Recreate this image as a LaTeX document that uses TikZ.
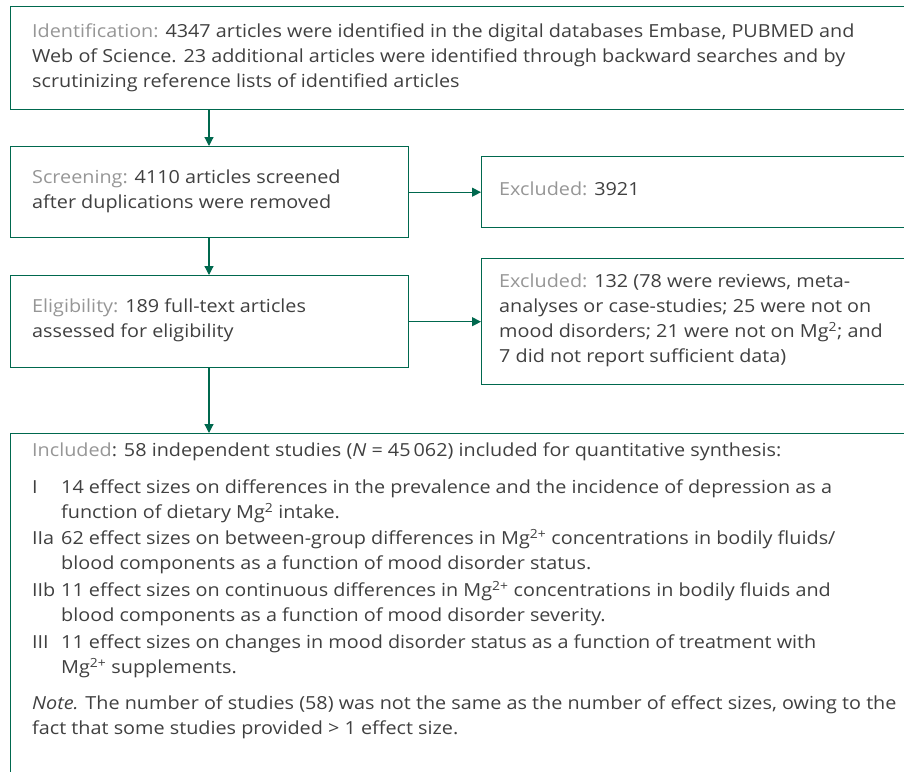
\documentclass[tikz,border=0pt]{standalone}
\usepackage{fontspec}
\setmainfont{Open Sans}[FakeStretch=1.10]
\usetikzlibrary{arrows.meta}
\definecolor{fgreen}{RGB}{0,104,78}
\definecolor{lblgray}{RGB}{150,150,150}
\definecolor{txtgray}{RGB}{64,64,64}
\newcommand{\lbl}[1]{\textcolor{lblgray}{#1}}
\newcommand{\itemlbl}[1]{\makebox[29pt][l]{#1}}
\newcommand{\itemind}{\hspace*{29pt}}
\begin{document}
\begin{tikzpicture}[x=1pt,y=-1pt,
  box/.style={draw=fgreen, line width=1.4pt, anchor=north west, inner sep=0pt, fill=white},
  txt/.style={anchor=north west, inner sep=0pt, align=left, text=txtgray, font=\fontsize{18}{25}\selectfont},
  conn/.style={draw=fgreen, line width=1.2pt, -{Triangle[length=9pt,width=9pt]}}]
\useasboundingbox (0,0) rectangle (904,771);
\clip (0,0) rectangle (904,771);
\fill[white] (0,0) rectangle (904,771);
% boxes
\node[box, minimum width=910pt, minimum height=103pt] (ident) at (10,6) {};
\node[box, minimum width=398pt, minimum height=91pt] (screen) at (10,146) {};
\node[box, minimum width=440pt, minimum height=71pt] (excl1) at (481,156) {};
\node[box, minimum width=398pt, minimum height=92pt] (elig) at (10,275) {};
\node[box, minimum width=440pt, minimum height=126pt] (excl2) at (481,258) {};
\node[box, minimum width=910pt, minimum height=400pt] (incl) at (10,433) {};
% texts
\node[txt] (identtxt) at (32,24) {\lbl{Identification:} 4347 articles were identified in the digital databases Embase, PUBMED and\\Web of Science. 23 additional articles were identified through backward searches and by\\scrutinizing reference lists of identified articles};
\node[txt] (screentxt) at (32,170) {\lbl{Screening:} 4110 articles screened\\after duplications were removed};
\node[txt] (excl1txt) at (499,182) {\lbl{Excluded:} 3921};
\node[txt] (eligtxt) at (32,299) {\lbl{Eligibility:} 189 full-text articles\\assessed for eligibility};
\node[txt] (excl2txt) at (499,274) {\lbl{Excluded:} 132 (78 were reviews, meta-\\analyses or case-studies; 25 were not on\\mood disorders; 21 were not on Mg\textsuperscript{2}; and\\7 did not report sufficient data)};
\node[txt] (incltxt) at (32,443) {\lbl{Included}: 58 independent studies (\textit{N} = 45\,062) included for quantitative synthesis:\\[12pt]
\itemlbl{I}14 effect sizes on differences in the prevalence and the incidence of depression as a\\
\itemind function of dietary Mg\textsuperscript{2} intake.\\[1pt]
\itemlbl{IIa}62 effect sizes on between-group differences in Mg\textsuperscript{2+} concentrations in bodily fluids/\\
\itemind blood components as a function of mood disorder status.\\[2pt]
\itemlbl{IIb}11 effect sizes on continuous differences in Mg\textsuperscript{2+} concentrations in bodily fluids and\\
\itemind blood components as a function of mood disorder severity.\\[2pt]
\itemlbl{III}11 effect sizes on changes in mood disorder status as a function of treatment with\\
\itemind Mg\textsuperscript{2+} supplements.\\[11pt]
\textit{Note.} The number of studies (58) was not the same as the number of effect sizes, owing to the\\
fact that some studies provided > 1 effect size.};
% connectors
\coordinate (ax) at (209,0);
\draw[conn] (ident.south -| ax) -- (screen.north -| ax);
\draw[conn] (screen.south -| ax) -- (elig.north -| ax);
\draw[conn] (elig.south -| ax) -- (incl.north -| ax);
\draw[conn] (screen.east) -- (excl1.west);
\draw[conn] (elig.east) -- (excl2.west);
\end{tikzpicture}
\end{document}
